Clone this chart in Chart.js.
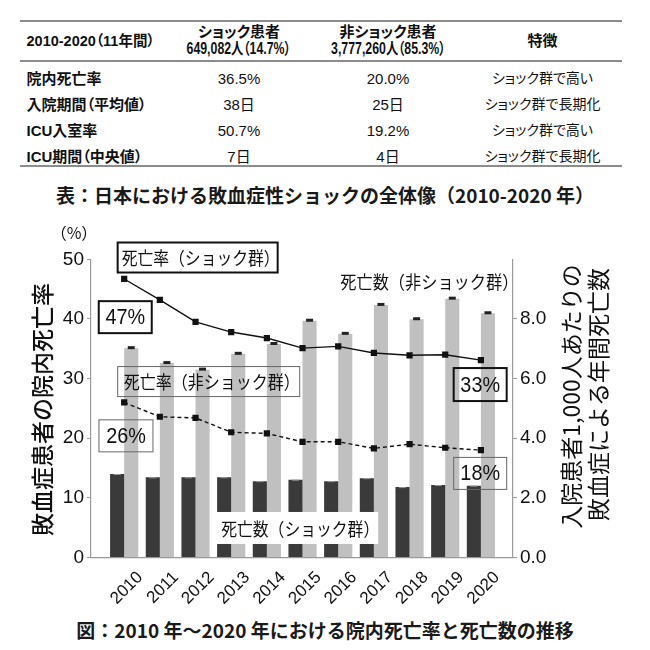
<!DOCTYPE html>
<html lang="ja">
<head>
<meta charset="utf-8">
<script src="https://cdn.jsdelivr.net/npm/chart.js@4.4.0/dist/chart.umd.min.js"></script>
<style>
  html, body { margin: 0; padding: 0; background: #fff; }
  body {
    width: 650px; height: 650px; position: relative; overflow: hidden;
    font-family: "Liberation Sans", "Noto Sans CJK JP", sans-serif; color: #111;
  }
  #summary {
    position: absolute; left: 20px; top: 20px; width: 602px;
    border-collapse: separate; border-spacing: 0;
    font-feature-settings: "palt";
  }
  #summary th {
    border-top: 2px solid #8c8c8c; border-bottom: 2px solid #8c8c8c;
    height: 38px; padding: 0; line-height: 16.6px;
    font-size: 15px; font-weight: bold; text-align: center;
  }
  #summary th .num { display: inline-block; font-size: 16px; transform: scaleX(0.77); white-space: nowrap; }
  #summary td {
    padding: 4.5px 0; line-height: 17px; font-size: 15px; text-align: center;
  }
  #summary td.feat { font-size: 14px; }
  #summary .lab { text-align: left; padding-left: 6.5px; font-weight: bold; font-size: 15px; }
  #summary th.lab { font-size: 14.5px; }
  #summary tr.first td { padding-top: 7.5px; }
  #summary tr.last td { padding-bottom: 0; border-bottom: 2px solid #8c8c8c; }
  .caption {
    position: absolute; left: 0; width: 650px; text-align: center;
    font-family: "Noto Sans CJK JP", sans-serif; font-weight: bold;
    font-size: 19px; line-height: 24px; color: #1a1a1a;
  }
  #chartBox { position: absolute; left: 0; top: 215px; width: 650px; height: 400px; }
</style>
</head>
<body>

<table id="summary">
  <colgroup>
    <col style="width:145px"><col style="width:148px"><col style="width:150px"><col style="width:159px">
  </colgroup>
  <thead>
    <tr>
      <th class="lab">2010-2020（11年間）</th>
      <th>ショック患者<br><span class="num">649,082人（14.7%）</span></th>
      <th>非ショック患者<br><span class="num">3,777,260人（85.3%）</span></th>
      <th>特徴</th>
    </tr>
  </thead>
  <tbody>
    <tr class="first"><td class="lab">院内死亡率</td><td>36.5%</td><td>20.0%</td><td class="feat">ショック群で高い</td></tr>
    <tr><td class="lab">入院期間（平均値）</td><td>38日</td><td>25日</td><td class="feat">ショック群で長期化</td></tr>
    <tr><td class="lab">ICU入室率</td><td>50.7%</td><td>19.2%</td><td class="feat">ショック群で高い</td></tr>
    <tr class="last"><td class="lab">ICU期間（中央値）</td><td>7日</td><td>4日</td><td class="feat">ショック群で長期化</td></tr>
  </tbody>
</table>

<div class="caption" style="top:183px">表：日本における敗血症性ショックの全体像（2010-2020 年）</div>

<div id="chartBox"><canvas id="trendChart" width="650" height="400"></canvas></div>

<div class="caption" style="top:618px">図：2010 年～2020 年における院内死亡率と死亡数の推移</div>

<script>
// Data
const years = [2010, 2011, 2012, 2013, 2014, 2015, 2016, 2017, 2018, 2019, 2020];
const mortalityShock = [46.7, 43.2, 39.5, 37.8, 36.8, 35.1, 35.4, 34.3, 33.9, 34.0, 33.1];
const mortalityNonShock = [26.0, 23.6, 23.4, 21.0, 20.8, 19.4, 19.4, 18.3, 19.0, 18.4, 18.0];
const deathsShock = [2.80, 2.69, 2.69, 2.69, 2.56, 2.61, 2.56, 2.66, 2.36, 2.43, 2.41];
const deathsNonShock = [7.02, 6.52, 6.30, 6.83, 7.16, 7.94, 7.50, 8.47, 7.99, 8.68, 8.19];
const leftTicks = [0, 10, 20, 30, 40, 50];
const rightTicks = [0, 2, 4, 6, 8];

const JP = '"Noto Sans CJK JP", sans-serif';
const LAT = '"Liberation Sans", "Noto Sans CJK JP", sans-serif';

// Labels placed in data units (x = year, y = left axis %)
const notes = [
  { text: "死亡率（ショック群）", x: 2012.06, y: 50.3, w: 160, h: 30, border: 2, tw: 158 },
  { text: "47%", x: 2010.03, y: 40.3, w: 53, h: 32, border: 2, num: true },
  { text: "死亡率（非ショック群）", x: 2012.37, y: 29.5, w: 182, h: 30, border: 1, tw: 176 },
  { text: "26%", x: 2010.05, y: 20.4, w: 54, h: 32, border: 1, num: true },
  { text: "死亡数（非ショック群）", x: 2018.47, y: 46.3, tw: 178 },
  { text: "33%", x: 2019.98, y: 29.0, w: 53, h: 33, border: 2, num: true },
  { text: "18%", x: 2019.98, y: 14.1, w: 53, h: 32, border: 1, num: true },
  { text: "死亡数（ショック群）", x: 2014.85, y: 4.95, w: 162, h: 32, fill: "#fff", tw: 158 }
];

const pts = arr => years.map((yr, i) => ({ x: yr, y: arr[i] }));

// small caps on top of the bars
const barCaps = {
  id: "barCaps",
  afterDatasetsDraw(chart) {
    const ctx = chart.ctx;
    chart.data.datasets.forEach((ds, i) => {
      if (ds.type === "line") return;
      chart.getDatasetMeta(i).data.forEach(el => {
        if (ds.capDark) {
          ctx.fillStyle = "#222";
          ctx.fillRect(el.x - 3.5, el.y - 2, 7, 3);
        } else {
          ctx.fillStyle = "#9a9a9a";
          ctx.fillRect(el.x - 3.5, el.y, 7, 1);
        }
      });
    });
  }
};

function vText(ctx, text, x, y, font) {
  ctx.save();
  ctx.translate(x, y);
  ctx.rotate(-Math.PI / 2);
  ctx.font = font;
  ctx.textAlign = "center";
  ctx.textBaseline = "middle";
  ctx.fillText(text, 0, 0);
  ctx.restore();
}

// text squeezed horizontally to a given advance width
function fitText(ctx, text, x, y, width) {
  const sx = width / ctx.measureText(text).width;
  ctx.save();
  ctx.translate(x, y);
  ctx.scale(sx, 1);
  ctx.fillText(text, 0, 0);
  ctx.restore();
}

const decorations = {
  id: "decorations",
  afterDraw(chart) {
    const { ctx, chartArea: a, scales } = chart;
    const midY = (a.top + a.bottom) / 2;
    ctx.save();
    ctx.fillStyle = "#111";
    vText(ctx, "敗血症患者の院内死亡率", a.left - 49, midY + 1, "500 23px " + JP);
    vText(ctx, "入院患者1,000人あたりの", a.right + 58.5, midY - 12, "23px " + JP);
    vText(ctx, "敗血症による年間死亡数", a.right + 85.5, midY - 14, "23px " + JP);

    ctx.font = "16px " + JP;
    ctx.textAlign = "center";
    ctx.textBaseline = "middle";
    ctx.fillText("（%）", a.left - 17, a.top - 26);

    notes.forEach(n => {
      const cx = scales.x.getPixelForValue(n.x);
      const cy = scales.y.getPixelForValue(n.y);
      if (n.w) {
        const x0 = cx - n.w / 2, y0 = cy - n.h / 2;
        if (n.fill) {
          ctx.fillStyle = n.fill;
          ctx.fillRect(x0, y0, n.w, n.h);
        }
        if (n.border) {
          ctx.lineWidth = n.border;
          ctx.strokeStyle = n.border > 1 ? "#111" : "#666";
          ctx.strokeRect(x0, y0, n.w, n.h);
        }
      }
      ctx.fillStyle = "#111";
      if (n.num) {
        ctx.font = "22px " + LAT;
        fitText(ctx, n.text, cx, cy + 1, ctx.measureText(n.text).width * 0.9);
      } else {
        ctx.font = "18px " + JP;
        fitText(ctx, n.text, cx + 3, cy + 1, n.tw);
      }
    });
    ctx.restore();
  }
};

const ctx = document.getElementById("trendChart").getContext("2d");
new Chart(ctx, {
  type: "bar",
  data: {
    datasets: [
      {
        type: "line",
        label: "死亡率（ショック群）",
        data: pts(mortalityShock),
        yAxisID: "y",
        borderColor: "#111",
        borderWidth: 1.4,
        pointStyle: "rect",
        pointRadius: 4.4,
        pointBackgroundColor: "#111",
        pointBorderWidth: 0,
        order: 0
      },
      {
        type: "line",
        label: "死亡率（非ショック群）",
        data: pts(mortalityNonShock),
        yAxisID: "y",
        borderColor: "#111",
        borderWidth: 1.4,
        borderDash: [4, 3],
        pointStyle: "rect",
        pointRadius: 4.4,
        pointBackgroundColor: "#111",
        pointBorderWidth: 0,
        order: 0
      },
      {
        label: "死亡数（ショック群）",
        data: pts(deathsShock),
        yAxisID: "y1",
        backgroundColor: "#3a3a3a",
        categoryPercentage: 0.79,
        barPercentage: 1,
        order: 1
      },
      {
        label: "死亡数（非ショック群）",
        data: pts(deathsNonShock),
        yAxisID: "y1",
        backgroundColor: "#c0c0c0",
        categoryPercentage: 0.79,
        barPercentage: 1,
        capDark: true,
        order: 2
      }
    ]
  },
  options: {
    responsive: false,
    animation: false,
    events: [],
    layout: { padding: { top: 44.3, left: 0, right: 0, bottom: 0 } },
    plugins: { legend: { display: false }, tooltip: { enabled: false } },
    scales: {
      x: {
        type: "linear",
        offset: false,
        min: 2009.07,
        max: 2020.9,
        grid: { display: false, offset: false },
        border: { display: true, color: "#9a9a9a", width: 1.2 },
        afterBuildTicks: s => { s.ticks = years.map(v => ({ value: v })); },
        afterFit: s => { s.height = 57.5; },
        ticks: {
          autoSkip: false,
          minRotation: 45,
          maxRotation: 45,
          padding: 2,
          labelOffset: 16,
          color: "#111",
          font: { family: LAT, size: 17 },
          callback: v => String(v)
        }
      },
      y: {
        position: "left",
        min: 0,
        max: 50,
        grid: { display: true, drawOnChartArea: false, drawTicks: true, tickLength: 4, color: "#9a9a9a" },
        border: { display: true, color: "#9a9a9a", width: 1.2 },
        afterBuildTicks: s => { s.ticks = leftTicks.map(v => ({ value: v })); },
        afterFit: s => { s.width = 91; },
        ticks: { padding: 3, color: "#111", font: { family: LAT, size: 19 } }
      },
      y1: {
        position: "right",
        min: 0,
        max: 10,
        grid: { display: true, drawOnChartArea: false, drawTicks: true, tickLength: 4, color: "#9a9a9a" },
        border: { display: true, color: "#9a9a9a", width: 1.2 },
        afterBuildTicks: s => { s.ticks = rightTicks.map(v => ({ value: v })); },
        afterFit: s => { s.width = 137; },
        ticks: {
          padding: 3,
          color: "#111",
          font: { family: LAT, size: 19 },
          callback: v => v.toFixed(1)
        }
      }
    }
  },
  plugins: [barCaps, decorations]
});
</script>
</body>
</html>
